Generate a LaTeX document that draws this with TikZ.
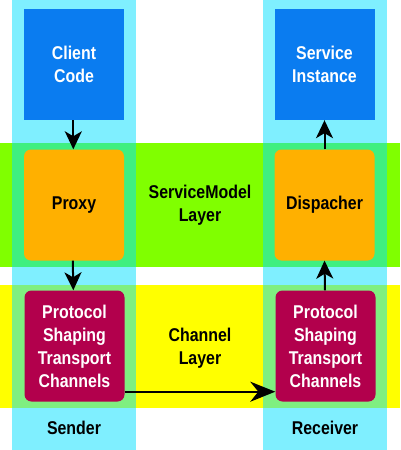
\documentclass[tikz,border=0pt]{standalone}
\usepackage{fontspec}
\setmainfont[FakeStretch=0.86]{Liberation Sans}
\usetikzlibrary{arrows.meta}
\definecolor{bandgreen}{RGB}{128,255,0}
\definecolor{bandyellow}{RGB}{255,255,0}
\definecolor{colcyan}{RGB}{0,225,255}
\definecolor{boxblue}{RGB}{10,124,240}
\definecolor{boxorange}{RGB}{255,176,0}
\definecolor{boxcrimson}{RGB}{178,0,76}
\tikzset{
  txt/.style={font=\bfseries\fontsize{18.5}{23}\selectfont, align=center},
  box/.style={txt, minimum width=100pt, minimum height=111pt, inner sep=0pt},
  bluebox/.style={box, fill=boxblue, text=white},
  orangebox/.style={box, fill=boxorange, rounded corners=7pt, text=black},
  redbox/.style={box, fill=boxcrimson, rounded corners=7pt, text=white},
  band/.style={inner sep=0pt, minimum width=400pt},
  column/.style={fill=colcyan, fill opacity=0.5, inner sep=0pt, minimum width=124pt, minimum height=450pt},
  flow/.style={line width=2pt, -{Stealth[length=18pt,width=17pt,inset=5pt]}},
  bigflow/.style={line width=2.2pt, -{Stealth[length=25pt,width=20pt,inset=8pt]}}
}
\begin{document}
\begin{tikzpicture}[x=1pt,y=-1pt]
\useasboundingbox (0,0) rectangle (400,450);
\fill[white] (0,0) rectangle (400,450);
% bands
\node[band, fill=bandgreen, minimum height=124pt] (smband) at (200,205) {};
\node[band, fill=bandyellow, minimum height=123pt] (chband) at (200,346.5) {};
% columns
\node[column] (colL) at (74,225) {};
\node[column] (colR) at (325,225) {};
% boxes
\node[bluebox] (client) at (74,64.5) {Client\\Code};
\node[bluebox] (service) at (324.5,64.5) {Service\\Instance};
\node[orangebox] (proxy) at (74,205) {Proxy};
\node[orangebox] (disp) at (324.5,205) {Dispacher};
\node[redbox] (protoL) at (74.5,346) {Protocol\\Shaping\\Transport\\Channels};
\node[redbox] (protoR) at (325.5,346) {Protocol\\Shaping\\Transport\\Channels};
% labels
\node[txt] (sml) at (200,205) {ServiceModel\\Layer};
\node[txt] (chl) at (200,348) {Channel\\Layer};
\node[txt] (sender) at (74,428) {Sender};
\node[txt] (receiver) at (325,428) {Receiver};
% connectors
\draw[flow] ([xshift=-0.7pt]client.south) -- ([xshift=-0.7pt]proxy.north);
\draw[flow] ([xshift=-1.2pt]proxy.south) -- ([xshift=-1.2pt]protoL.north);
\draw[flow] ([xshift=-0.5pt]protoR.north) -- ([xshift=0pt]disp.south);
\draw[flow] (disp.north) -- (service.south);
\draw[bigflow] ([yshift=-45.7pt]protoL.east) -- ([yshift=-45.7pt]protoR.west);
\end{tikzpicture}
\end{document}
